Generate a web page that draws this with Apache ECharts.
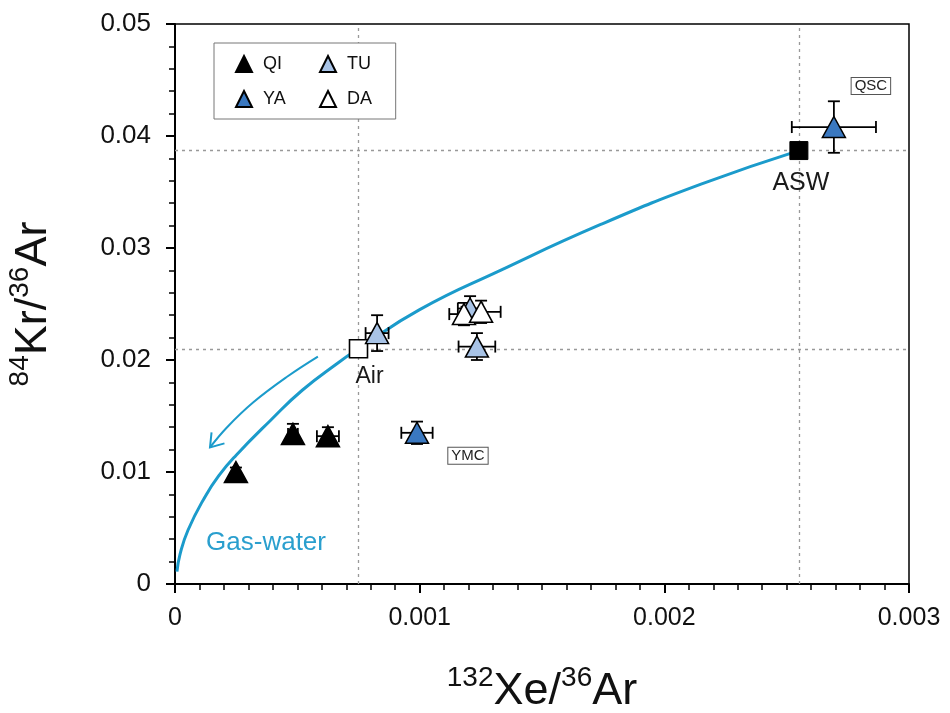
<!DOCTYPE html>
<html>
<head>
<meta charset="utf-8">
<script src="https://cdn.jsdelivr.net/npm/echarts@6/dist/echarts.min.js"></script>
<style>
  html, body { margin: 0; padding: 0; background: #fff; }
  #chart { width: 950px; height: 713px; }
</style>
</head>
<body>
<div id="chart"></div>
<script>
// Sample groups: [132Xe/36Ar, 84Kr/36Ar, xErr, yErr]
const qiPoints = [
  [0.000249, 0.0100, 0.00001, 0.0004],
  [0.000482, 0.0134, 0.00002, 0.0009],
  [0.000625, 0.0132, 0.000045, 0.0008]
];
const yaPoints = [
  [0.000989, 0.0135, 0.000064, 0.0010],
  [0.002693, 0.0408, 0.000172, 0.0023]
];
const yaTags = ['YMC', 'QSC'];
const tuPoints = [
  [0.000826, 0.0224, 0.000047, 0.0016],
  [0.001206, 0.0246, 0.00005, 0.0011],
  [0.001234, 0.0212, 0.000075, 0.0012]
];
const daPoints = [
  [0.001181, 0.0241, 0.00006, 0.0010],
  [0.001251, 0.0243, 0.00008, 0.0010]
];

// Reference end-members
const airPoint = [0.00075, 0.0210];
const aswPoint = [0.00255, 0.0387];

// Gas-water partitioning trend from ASW towards the origin
const curveX = [0.000008, 0.00002, 0.000053, 0.000123, 0.00018, 0.00025, 0.00039, 0.00052, 0.00067, 0.00075, 0.0010, 0.00133, 0.00174, 0.00215, 0.00255];
const curveY = [0.0011, 0.0026, 0.0048, 0.0078, 0.0097, 0.0115, 0.0146, 0.0173, 0.0198, 0.0210, 0.0245, 0.0280, 0.0321, 0.0357, 0.0387];

// Direction arrow drawn beside the curve
const arrowX = [0.000584, 0.000458, 0.000319, 0.000213, 0.000143];
const arrowY = [0.0203, 0.0185, 0.0162, 0.0140, 0.0122];

const curveLabelPos = [0.000372, 0.00366];

const xTicks = [0, 0.001, 0.002, 0.003];
const yTicks = [0, 0.01, 0.02, 0.03, 0.04, 0.05];

const TREND = '#1b9bcb';
const NUM_FONT = '"Liberation Sans Narrow","Arial Narrow","Liberation Sans",Arial,sans-serif';
const TXT_FONT = '"Liberation Sans",Arial,sans-serif';

const chart = echarts.init(document.getElementById('chart'), null, { renderer: 'canvas' });

function tri(name, pts, fill) {
  return {
    name: name,
    type: 'scatter',
    symbol: 'triangle',
    symbolSize: [23, 21],
    z: 5,
    itemStyle: { color: fill, borderColor: '#000', borderWidth: 1.5, opacity: 1 },
    data: pts.map(p => [p[0], p[1]])
  };
}

const allErr = [].concat(qiPoints, yaPoints, tuPoints, daPoints);

const titleRich = {
  b: { fontSize: 45, fontFamily: NUM_FONT, color: '#111', verticalAlign: 'bottom', lineHeight: 50 },
  sup: { fontSize: 28, fontFamily: NUM_FONT, color: '#111', verticalAlign: 'top', padding: [0, 0, 18, 0], lineHeight: 50 }
};

const legendText = { fontSize: 18, fontFamily: TXT_FONT, color: '#111', padding: [0, 0, 0, 6] };

const option = {
  animation: false,
  backgroundColor: '#fff',
  grid: {
    left: 175, right: 41, top: 24, bottom: 129,
    containLabel: false, outerBoundsMode: 'none',
    show: true, borderColor: '#000', borderWidth: 1.5, backgroundColor: 'transparent'
  },
  legend: [
    {
      data: ['QI', 'YA'],
      left: 214, top: 43,
      orient: 'vertical',
      itemWidth: 16, itemHeight: 16,
      itemGap: 17,
      padding: [12, 110, 11, 21],
      borderColor: '#777', borderWidth: 1,
      backgroundColor: '#fff',
      textStyle: legendText,
      icon: 'triangle'
    },
    {
      data: ['TU', 'DA'],
      left: 319, top: 55,
      orient: 'vertical',
      itemWidth: 16, itemHeight: 16,
      itemGap: 17,
      padding: 0,
      z: 5,
      textStyle: legendText,
      icon: 'triangle'
    }
  ],
  xAxis: {
    type: 'value', min: 0, max: 0.003, interval: 0.001,
    axisLine: { show: true, lineStyle: { color: '#000', width: 2 } },
    axisTick: { show: true, inside: false, length: 9, lineStyle: { color: '#000', width: 2 } },
    minorTick: { show: true, splitNumber: 10, length: 6, lineStyle: { color: '#000', width: 1.5 } },
    splitLine: { show: false },
    axisLabel: {
      margin: 22, fontSize: 25, color: '#111', fontFamily: NUM_FONT,
      formatter: v => { const t = xTicks.find(k => Math.abs(k - v) < 1e-9); return t === 0 ? '0' : String(t); }
    },
    name: '{sup|132}{b|Xe/}{sup|36}{b|Ar}',
    nameLocation: 'middle', nameGap: 80,
    nameTextStyle: { rich: titleRich }
  },
  yAxis: {
    type: 'value', min: 0, max: 0.05, interval: 0.01,
    axisLine: { show: true, lineStyle: { color: '#000', width: 2 } },
    axisTick: { show: true, inside: false, length: 9, lineStyle: { color: '#000', width: 2 } },
    minorTick: { show: true, splitNumber: 5, length: 6, lineStyle: { color: '#000', width: 1.5 } },
    splitLine: { show: false },
    axisLabel: {
      margin: 24, fontSize: 26, color: '#111', fontFamily: NUM_FONT,
      formatter: v => { const t = yTicks.find(k => Math.abs(k - v) < 1e-9); return t === 0 ? '0' : String(t); }
    },
    name: '{sup|84}{b|Kr/}{sup|36}{b|Ar}',
    nameLocation: 'middle', nameGap: 119,
    nameRotate: 90,
    nameTextStyle: { rich: titleRich }
  },
  series: [
    {
      // dotted guides through the Air and ASW end-members
      name: 'guides',
      type: 'line',
      z: 1,
      data: [],
      markLine: {
        silent: true, symbol: 'none', animation: false,
        precision: 8, z: 1,
        label: { show: false },
        lineStyle: { color: '#999', type: [3, 4], width: 1.3 },
        data: [
          { xAxis: airPoint[0] }, { xAxis: aswPoint[0] },
          { yAxis: airPoint[1] }, { yAxis: aswPoint[1] }
        ]
      }
    },
    {
      name: 'trend',
      type: 'line',
      data: curveX.map((x, i) => [x, curveY[i]]),
      smooth: 0.5,
      showSymbol: false,
      symbol: 'none',
      z: 2,
      lineStyle: { color: TREND, width: 3 },
      markPoint: {
        silent: true, symbol: 'circle', symbolSize: 0,
        data: [{
          coord: curveLabelPos,
          label: { show: true, formatter: 'Gas-water', fontSize: 26, fontFamily: TXT_FONT, color: '#2a9fce', position: 'inside' }
        }]
      }
    },
    {
      name: 'arrow',
      type: 'custom',
      z: 2,
      silent: true,
      data: [[arrowX[0], arrowY[0]]],
      renderItem: function (params, api) {
        const pts = arrowX.map((x, i) => api.coord([x, arrowY[i]]));
        const n = pts.length;
        const tip = pts[n - 1], prev = pts[n - 2];
        const ang = Math.atan2(tip[1] - prev[1], tip[0] - prev[0]);
        const L = 15, spread = 0.6;
        const a1 = [tip[0] - L * Math.cos(ang - spread), tip[1] - L * Math.sin(ang - spread)];
        const a2 = [tip[0] - L * Math.cos(ang + spread), tip[1] - L * Math.sin(ang + spread)];
        return {
          type: 'group',
          children: [
            { type: 'polyline', shape: { points: pts, smooth: 0.4 }, style: { stroke: TREND, lineWidth: 2, fill: null } },
            { type: 'polyline', shape: { points: [a1, tip, a2] }, style: { stroke: TREND, lineWidth: 2, fill: null } }
          ]
        };
      }
    },
    {
      name: 'errors',
      type: 'custom',
      z: 4,
      silent: true,
      data: allErr,
      encode: { x: 0, y: 1 },
      renderItem: function (params, api) {
        const x = api.value(0), y = api.value(1), ex = api.value(2), ey = api.value(3);
        const l = api.coord([x - ex, y]), r = api.coord([x + ex, y]);
        const t = api.coord([x, y + ey]), b = api.coord([x, y - ey]);
        const cap = 6;
        const st = { stroke: '#000', lineWidth: 1.8 };
        return {
          type: 'group',
          children: [
            { type: 'line', shape: { x1: l[0], y1: l[1], x2: r[0], y2: r[1] }, style: st },
            { type: 'line', shape: { x1: l[0], y1: l[1] - cap, x2: l[0], y2: l[1] + cap }, style: st },
            { type: 'line', shape: { x1: r[0], y1: r[1] - cap, x2: r[0], y2: r[1] + cap }, style: st },
            { type: 'line', shape: { x1: t[0], y1: t[1], x2: b[0], y2: b[1] }, style: st },
            { type: 'line', shape: { x1: t[0] - cap, y1: t[1], x2: t[0] + cap, y2: t[1] }, style: st },
            { type: 'line', shape: { x1: b[0] - cap, y1: b[1], x2: b[0] + cap, y2: b[1] }, style: st }
          ]
        };
      }
    },
    {
      name: 'Air',
      type: 'scatter',
      symbol: 'rect', symbolSize: 18, z: 4,
      itemStyle: { color: '#fff', borderColor: '#000', borderWidth: 1.6, opacity: 1 },
      label: { show: true, position: 'bottom', distance: 7, offset: [11, 0], formatter: 'Air', fontSize: 23, fontFamily: TXT_FONT, color: '#1a1a1a' },
      data: [airPoint]
    },
    {
      name: 'ASW',
      type: 'scatter',
      symbol: 'rect', symbolSize: 18, z: 4,
      itemStyle: { color: '#000', borderColor: '#000', borderWidth: 1, opacity: 1 },
      label: { show: true, position: 'bottom', distance: 11, offset: [2, 0], formatter: 'ASW', fontSize: 25, fontFamily: TXT_FONT, color: '#1a1a1a' },
      data: [aswPoint]
    },
    tri('QI', qiPoints, '#000'),
    Object.assign(tri('YA', yaPoints, '#3a78c0'), {
      data: yaPoints.map((p, i) => ({
        value: [p[0], p[1]],
        label: {
          show: true,
          formatter: yaTags[i],
          position: 'inside',
          offset: i === 0 ? [51, 23] : [37, -41],
          fontSize: 15, fontFamily: TXT_FONT, color: '#222',
          borderColor: '#555', borderWidth: 1, padding: [1, 3, 0, 3], backgroundColor: '#fff'
        }
      }))
    }),
    tri('TU', tuPoints, '#a8c3e6'),
    tri('DA', daPoints, '#fff')
  ]
};

chart.setOption(option);
</script>
</body>
</html>
